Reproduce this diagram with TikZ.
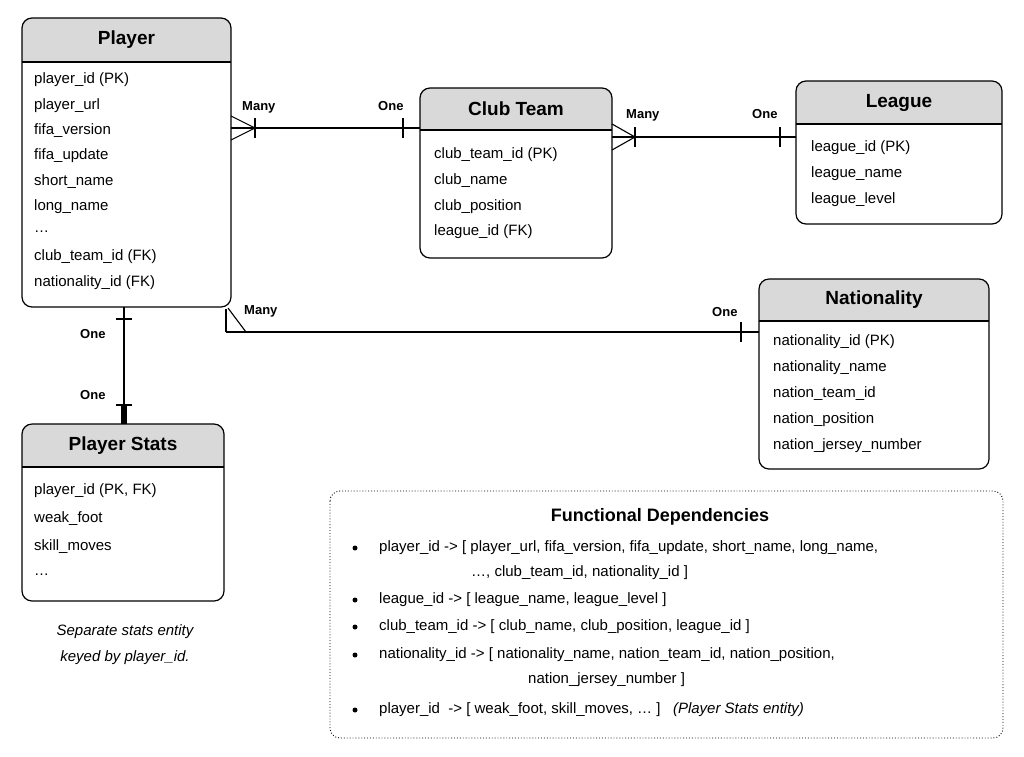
\documentclass[tikz,border=0pt]{standalone}
\usepackage{fontspec}
\setmainfont{Liberation Sans}
\begin{document}
\begin{tikzpicture}[x=1pt,y=-1pt,
  ent/.style={draw,line width=1.2pt,rounded corners=10pt},
  hdr/.style={fill=black!15},
  itm/.style={anchor=west,font=\fontsize{15}{17}\selectfont,inner sep=0pt},
  ttl/.style={font=\bfseries\fontsize{19}{21}\selectfont},
  lbl/.style={font=\bfseries\fontsize{13}{15}\selectfont,anchor=base west,inner sep=0pt},
  con/.style={line width=1.1pt}]
\useasboundingbox (0,0) rectangle (1024,756);
\fill[white] (0,0) rectangle (1024,756);
% entity macro-like drawing
\newcommand{\ent}[7]{% name x1 y1 x2 y2 yh title
  \begin{scope}
  \clip[rounded corners=10pt] (#2,#3) rectangle (#4,#5);
  \fill[black!15] (#2,#3) rectangle (#4,#6);
  \end{scope}
  \draw[line width=1.2pt] (#2,#6) -- (#4,#6);
  \draw[ent] (#2,#3) rectangle (#4,#5);
  \node[ttl] (#1) at ({(#2+#4)/2},{(#3+#6)/2}) {#7};
}
\ent{player}{22}{18}{231}{307}{62}{Player}
\foreach \t [count=\i from 0] in {player\_id (PK),player\_url,fifa\_version,fifa\_update,short\_name,long\_name,\dots,club\_team\_id (FK),nationality\_id (FK)}
  \node[itm] (p\i) at (34,{80+25.3*\i}) {\t};
\ent{club}{420}{88}{612}{258}{130}{Club Team}
\foreach \t [count=\i from 0] in {club\_team\_id (PK),club\_name,club\_position,league\_id (FK)}
  \node[itm] (c\i) at (434,{155+25.7*\i}) {\t};
\ent{league}{796}{81}{1002}{224}{124}{League}
\foreach \t [count=\i from 0] in {league\_id (PK),league\_name,league\_level}
  \node[itm] (l\i) at (811,{148+26*\i}) {\t};
\ent{nat}{759}{279}{989}{469}{321}{Nationality}
\foreach \t [count=\i from 0] in {nationality\_id (PK),nationality\_name,nation\_team\_id,nation\_position,nation\_jersey\_number}
  \node[itm] (n\i) at (773,{342+26*\i}) {\t};
\ent{stats}{22}{424}{224}{601}{467}{Player Stats}
\foreach \t [count=\i from 0] in {player\_id (PK{,} FK),weak\_foot,skill\_moves,\dots}
  \node[itm] (s\i) at (34,{491+28*\i}) {\t};
\node[itm,font=\itshape\fontsize{15}{17}\selectfont,anchor=center] (cap1) at (125,632) {Separate stats entity};
\node[itm,font=\itshape\fontsize{15}{17}\selectfont,anchor=center] (cap2) at (125,658) {keyed by player\_id.};
% Player - Club
\coordinate (a1) at (231,128); \coordinate (a2) at (420,128);
\draw[con] (a1) -- (a2);
\draw[con] (231,116) -- (255,128) -- (231,140);
\draw[con] (255,118) -- (255,138);
\draw[con] (403,118) -- (403,138);
\node[lbl] (m1) at (242,110) {Many};
\node[lbl] (o1) at (378,110) {One};
% Club - League
\coordinate (b1) at (612,137); \coordinate (b2) at (796,137);
\draw[con] (b1) -- (b2);
\draw[con] (612,124) -- (635,137) -- (612,150);
\draw[con] (635,127) -- (635,147);
\draw[con] (780,127) -- (780,147);
\node[lbl] (m2) at (626,118) {Many};
\node[lbl] (o2) at (752,118) {One};
% Player - Nationality
\coordinate (c1) at (226,332); \coordinate (c2) at (759,332);
\draw[con] (c1) -- (c2);
\draw[con] (226,309) -- (226,332);
\draw[con] (228,308) -- (246,332);
\draw[con] (741,322) -- (741,342);
\node[lbl] (m3) at (244,314) {Many};
\node[lbl] (o3) at (712,316) {One};
% Player - Stats
\coordinate (d1) at (124,307); \coordinate (d2) at (124,424);
\draw[con] (d1) -- (d2);
\draw[con] (116,319) -- (132,319);
\draw[con] (116,405) -- (132,405);
\draw[con] (122,405) -- (122,424); \draw[con] (126,405) -- (126,424);
\node[lbl] (o4) at (80,338) {One};
\node[lbl] (o5) at (80,399) {One};
% FD box
\draw[line width=0.9pt,dotted,rounded corners=10pt] (330,491) rectangle (1003,738);
\node[ttl,font=\bfseries\fontsize{18}{20}\selectfont] (fdt) at (660,517) {Functional Dependencies};
\foreach \y/\t in {548/{player\_id -> [ player\_url, fifa\_version, fifa\_update, short\_name, long\_name,},
  600/{league\_id -> [ league\_name, league\_level ]},
  627/{club\_team\_id -> [ club\_name, club\_position, league\_id ]},
  655/{nationality\_id -> [ nationality\_name, nation\_team\_id, nation\_position,},
  710/{player\_id \ -> [ weak\_foot, skill\_moves, \dots\ ] \ \ \textit{(Player Stats entity)}}}
{ \fill (355,\y) circle (2.5);
  \node[itm] at (379,\y) {\t}; }
\node[itm] (fd1b) at (471,573) {\dots, club\_team\_id, nationality\_id ]};
\node[itm] (fd4b) at (528,680) {nation\_jersey\_number ]};
\end{tikzpicture}
\end{document}
